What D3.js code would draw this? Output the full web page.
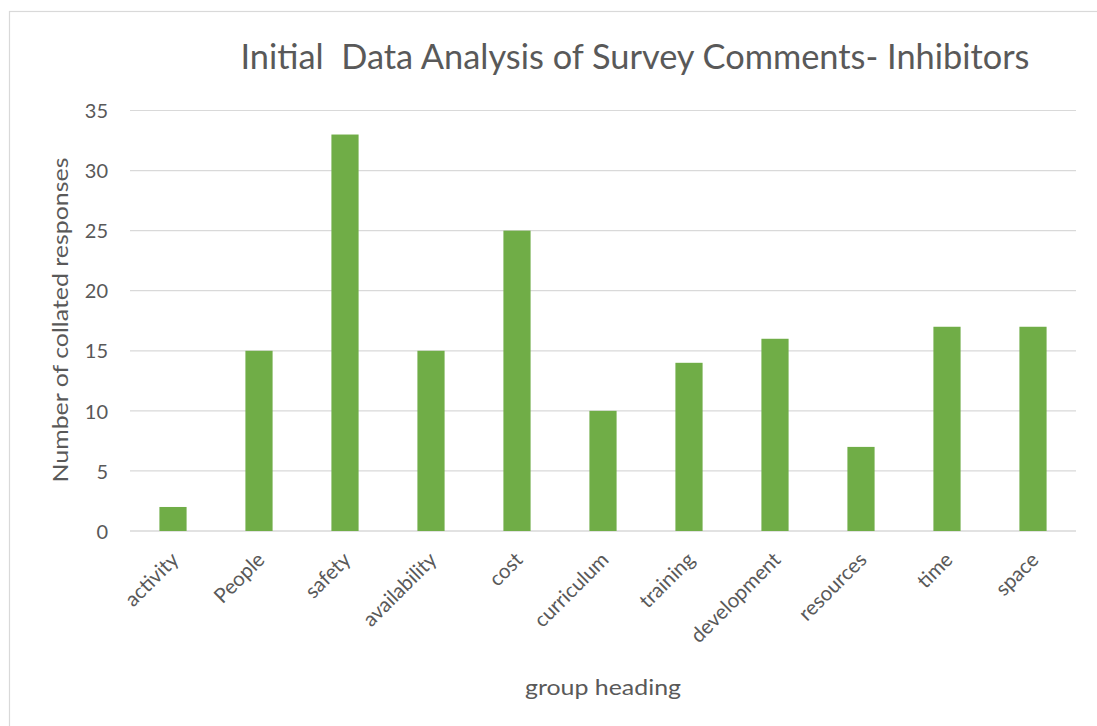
<!DOCTYPE html>
<html><head><meta charset="utf-8">
<script src="https://cdn.jsdelivr.net/npm/d3@7"></script>
<style>html,body{margin:0;padding:0;background:#fff;}svg{display:block;}</style>
</head><body>
<script>
const categories = ["activity","People","safety","availability","cost","curriculum","training","development","resources","time","space"];
const values = [2,15,33,15,25,10,14,16,7,17,17];
const yTicks = [0,5,10,15,20,25,30,35];
const titleText = "Initial  Data Analysis of Survey Comments- Inhibitors";
const xTitle = "group heading";
const yTitle = "Number of collated responses";

(function () {
const W = 1097, H = 726;
const font = "Lato, 'Open Sans', sans-serif";
const txt = "#595959";
const svg = d3.select("body").append("svg").attr("width", W).attr("height", H);

svg.append("rect").attr("x", 9.5).attr("y", 11.5).attr("width", 1200).attr("height", 800)
  .attr("fill", "#fff").attr("stroke", "#d9d9d9").attr("stroke-width", 1.2);

const pLeft = 130, pRight = 1076, pTop = 110.5, pBottom = 531;
const x = d3.scaleBand().domain(categories).range([pLeft, pRight]).paddingInner(0.684).paddingOuter(0.342);
const y = d3.scaleLinear().domain([0, 35]).range([pBottom, pTop]);

svg.append("g").selectAll("line").data(yTicks).join("line")
  .attr("x1", pLeft).attr("x2", pRight)
  .attr("y1", d => y(d)).attr("y2", d => y(d))
  .attr("stroke", "#d9d9d9").attr("stroke-width", d => d === 0 ? 1.5 : 1.2);

svg.append("g").selectAll("rect").data(values).join("rect")
  .attr("x", (d, i) => x(categories[i]))
  .attr("width", x.bandwidth())
  .attr("y", d => y(d))
  .attr("height", d => y(0) - y(d))
  .attr("fill", "#70ad47");

const yAxis = d3.axisLeft(y).tickValues(yTicks).tickSize(0).tickPadding(0);
const yg = svg.append("g").attr("transform", `translate(${pLeft - 22},0)`).call(yAxis);
yg.select(".domain").remove();
yg.selectAll("text").attr("font-family", font).attr("font-size", 20).attr("fill", txt).attr("dy", "0.36em");

const xAxis = d3.axisBottom(x).tickSize(0).tickPadding(0);
const xg = svg.append("g").attr("transform", `translate(0,${pBottom})`).call(xAxis);
xg.select(".domain").remove();
xg.selectAll("text").attr("font-family", font).attr("font-size", 20.5).attr("fill", txt)
  .attr("text-anchor", "end").attr("dy", null).attr("y", 0)
  .attr("transform", "translate(7,30) rotate(-45)");

svg.append("text").attr("x", 635).attr("y", 69).attr("text-anchor", "middle")
  .attr("font-family", font).attr("font-size", 34).attr("fill", txt)
  .style("white-space", "pre").attr("xml:space", "preserve")
  .attr("textLength", 789).attr("lengthAdjust", "spacingAndGlyphs")
  .text(titleText);

svg.append("text").attr("x", 603).attr("y", 695).attr("text-anchor", "middle")
  .attr("font-family", font).attr("font-size", 22).attr("fill", txt)
  .attr("textLength", 156).attr("lengthAdjust", "spacingAndGlyphs").text(xTitle);

svg.append("text").attr("transform", "translate(68,320) rotate(-90)").attr("text-anchor", "middle")
  .attr("font-family", font).attr("font-size", 22).attr("fill", txt)
  .attr("textLength", 325).attr("lengthAdjust", "spacingAndGlyphs").text(yTitle);
})();
</script>
</body></html>
